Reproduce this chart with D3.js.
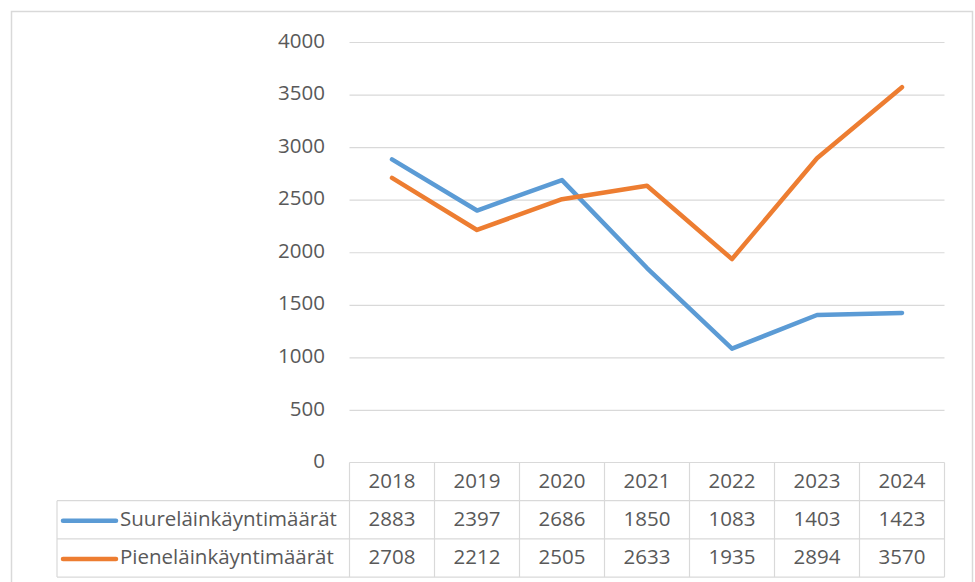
<!DOCTYPE html>
<html><head><meta charset="utf-8">
<script src="https://cdn.jsdelivr.net/npm/d3@7"></script>
<style>
html,body{margin:0;padding:0;background:#fff;}
svg{display:block;}
text{font-family:"Open Sans","Noto Sans",sans-serif;fill:#595959;}
</style></head>
<body>
<svg id="chart" width="975" height="582"></svg>
<script>
const years = ["2018","2019","2020","2021","2022","2023","2024"];
const seriesNames = ["Suureläinkäyntimäärät","Pieneläinkäyntimäärät"];
const suure = [2883,2397,2686,1850,1083,1403,1423];
const piene = [2708,2212,2505,2633,1935,2894,3570];
const yTicks = [0,500,1000,1500,2000,2500,3000,3500,4000];
const colors = ["#5b9bd5","#ed7d31"];

(function(){
const FS = 20.5;
const svg = d3.select("#chart");
svg.append("rect").attr("x",11.5).attr("y",11.5).attr("width",961).attr("height",600)
  .attr("fill","#fff").attr("stroke","#d9d9d9").attr("stroke-width",1.5);

const pLeft = 349.5, pRight = 944.5, pTop = 42, pBottom = 462.5;
const x = d3.scaleBand().domain(years).range([pLeft,pRight]);
const y = d3.scaleLinear().domain([0,4000]).range([pBottom,pTop]);

// gridlines
const yAxis = d3.axisLeft(y).tickValues(yTicks).tickFormat(d3.format("d"))
  .tickSize(-(pRight-pLeft)).tickPadding(24.5);
const ga = svg.append("g").attr("transform",`translate(${pLeft},0)`).call(yAxis);
ga.select(".domain").remove();
ga.selectAll(".tick line").attr("stroke","#d9d9d9").attr("stroke-width",1.2);
ga.selectAll(".tick text").attr("font-size",FS).attr("fill","#595959")
  .attr("font-family",'"Open Sans","Noto Sans",sans-serif').attr("dy","0.25em");
ga.selectAll(".tick").filter(d=>d===0).select("line").remove();

// lines
const line = d3.line().x((d,i)=>x(years[i])+x.bandwidth()/2).y(d=>y(d));
[suure,piene].forEach((s,k)=>{
  svg.append("path").datum(s).attr("d",line).attr("fill","none")
    .attr("stroke",colors[k]).attr("stroke-width",4.5)
    .attr("stroke-linejoin","round").attr("stroke-linecap","round");
});

// data table
const rowH = 38.2;
const tableLeft = 57;
const tg = svg.append("g");
const bc = "#d9d9d9";
tg.append("line").attr("x1",pLeft).attr("x2",pRight).attr("y1",pBottom).attr("y2",pBottom).attr("stroke",bc).attr("stroke-width",1.2);
for(let r=1;r<=3;r++){
  tg.append("line").attr("x1",tableLeft).attr("x2",pRight).attr("y1",pBottom+rowH*r).attr("y2",pBottom+rowH*r).attr("stroke",bc).attr("stroke-width",1.2);
}
tg.append("line").attr("x1",tableLeft).attr("x2",tableLeft).attr("y1",pBottom+rowH).attr("y2",pBottom+rowH*3).attr("stroke",bc).attr("stroke-width",1.2);
years.forEach(yr=>{
  tg.append("line").attr("x1",x(yr)).attr("x2",x(yr)).attr("y1",pBottom).attr("y2",pBottom+rowH*3).attr("stroke",bc).attr("stroke-width",1.2);
});
tg.append("line").attr("x1",pRight).attr("x2",pRight).attr("y1",pBottom).attr("y2",pBottom+rowH*3).attr("stroke",bc).attr("stroke-width",1.2);

years.forEach(yr=>{
  tg.append("text").attr("x",x(yr)+x.bandwidth()/2).attr("y",pBottom+rowH/2).attr("dy","0.3em")
    .attr("text-anchor","middle").attr("font-size",FS).text(yr);
});
[suure,piene].forEach((s,k)=>{
  const cy = pBottom+rowH*(k+1)+rowH/2;
  s.forEach((v,i)=>{
    tg.append("text").attr("x",x(years[i])+x.bandwidth()/2).attr("y",cy).attr("dy","0.3em")
      .attr("text-anchor","middle").attr("font-size",FS).text(v);
  });
  tg.append("line").attr("x1",63).attr("x2",116).attr("y1",cy+1).attr("y2",cy+1)
    .attr("stroke",colors[k]).attr("stroke-width",4.5).attr("stroke-linecap","round");
  tg.append("text").attr("x",120).attr("y",cy).attr("dy","0.3em")
    .attr("font-size",FS).text(seriesNames[k]);
});
})();
</script>
</body></html>
